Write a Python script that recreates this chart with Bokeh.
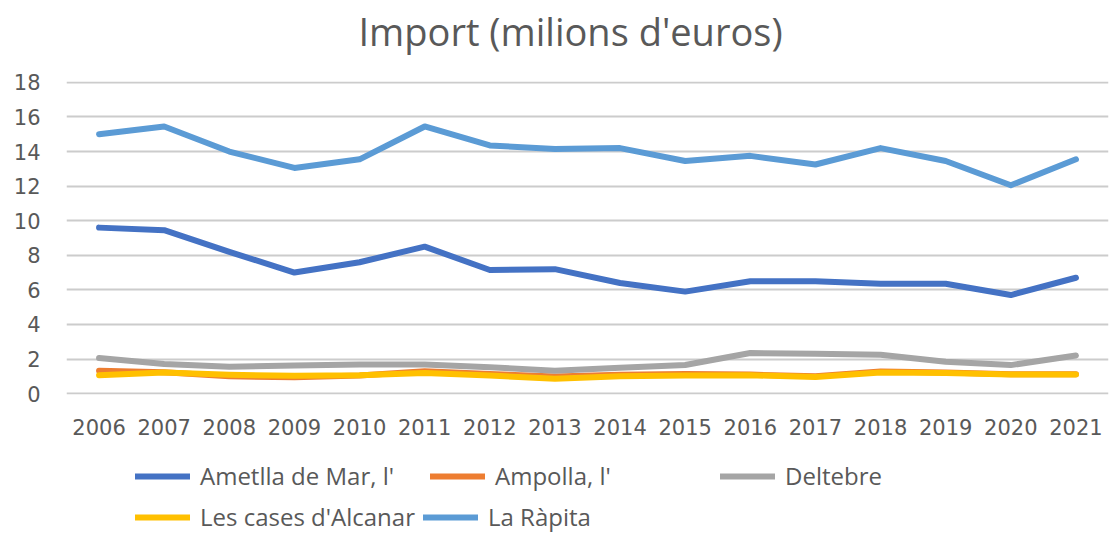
from bokeh.plotting import figure
from bokeh.layouts import column
from bokeh.models import (FactorRange, Range1d, FixedTicker, Legend, LegendItem)
from bokeh.embed import file_html
from bokeh.resources import INLINE

years = ["2006", "2007", "2008", "2009", "2010", "2011", "2012", "2013",
         "2014", "2015", "2016", "2017", "2018", "2019", "2020", "2021"]
ametlla = [9.6, 9.45, 8.2, 7.0, 7.6, 8.5, 7.15, 7.2, 6.4, 5.9, 6.5, 6.5, 6.35, 6.35, 5.7, 6.7]
ampolla = [1.33, 1.24, 1.0, 0.95, 1.05, 1.3, 1.14, 0.99, 1.09, 1.14, 1.1, 1.0, 1.28, 1.22, 1.12, 1.12]
deltebre = [2.06, 1.71, 1.56, 1.62, 1.68, 1.68, 1.52, 1.33, 1.49, 1.66, 2.35, 2.3, 2.25, 1.85, 1.65, 2.2]
cases = [1.07, 1.22, 1.09, 1.03, 1.07, 1.2, 1.05, 0.86, 1.0, 1.05, 1.06, 0.96, 1.22, 1.2, 1.1, 1.1]
rapita = [15.0, 15.45, 14.0, 13.05, 13.55, 15.45, 14.35, 14.15, 14.2, 13.45, 13.75, 13.25, 14.2, 13.45, 12.05, 13.55]

series_names = ["Ametlla de Mar, l'", "Ampolla, l'", "Deltebre", "Les cases d'Alcanar", "La Ràpita"]
series_values = [ametlla, ampolla, deltebre, cases, rapita]
series_colors = ["#4472C4", "#ED7D31", "#A5A5A5", "#FFC000", "#5B9BD5"]
y_ticks = [0, 2, 4, 6, 8, 10, 12, 14, 16, 18]

TEXT = "#595959"

# ---------------- title strip ----------------
t = figure(width=1110, height=60, output_backend="svg", toolbar_location=None,
           x_axis_location=None, y_axis_location=None,
           x_range=FactorRange(factors=years, range_padding=0), y_range=Range1d(0, 1),
           min_border_left=66, min_border_right=2, min_border_top=0, min_border_bottom=0,
           title="Import (milions d'euros)")
t.grid.visible = False
t.outline_line_color = None
t.border_fill_color = "white"
t.title.align = "left"
t.title.offset = 292
t.title.standoff = 4
t.title.text_font = "Open Sans"
t.title.text_font_size = "38px"
t.title.text_font_style = "normal"
t.title.text_color = TEXT

# ---------------- main chart ----------------
p = figure(width=1110, height=386, output_backend="svg", toolbar_location=None,
           x_range=t.x_range,
           y_range=Range1d(-0.05, 18.05),
           min_border_left=66, min_border_right=2, min_border_top=21, min_border_bottom=52)

p.outline_line_color = None
p.background_fill_color = "white"
p.border_fill_color = "white"

p.xgrid.grid_line_color = None
p.ygrid.grid_line_color = "#CCCCCC"
p.ygrid.grid_line_width = 2
p.yaxis.ticker = FixedTicker(ticks=y_ticks)

for ax in (p.xaxis, p.yaxis):
    ax.axis_line_color = None
    ax.major_tick_line_color = None
    ax.minor_tick_line_color = None
    ax.major_tick_out = 0
    ax.major_tick_in = 0
    ax.major_label_text_font = "DejaVu Sans"
    ax.major_label_text_font_size = "21px"
    ax.major_label_text_color = TEXT

p.xaxis.major_label_standoff = 24
p.yaxis.major_label_standoff = 26

for name, vals, col in zip(series_names, series_values, series_colors):
    p.line(years, vals, line_color=col, line_width=6,
           line_join="round", line_cap="round")

# ---------------- legend strip ----------------
# the series are drawn again here only as legend swatches (kept outside the visible y range)
q = figure(width=1110, height=87, output_backend="svg", toolbar_location=None,
           x_range=t.x_range,
           y_range=Range1d(-2, -1),
           min_border_left=66, min_border_right=2, min_border_top=0, min_border_bottom=0)
q.axis.visible = False
q.grid.visible = False
q.outline_line_color = None
q.background_fill_color = "white"
q.border_fill_color = "white"

swatches = []
for vals, col in zip(series_values, series_colors):
    swatches.append(q.line(years, vals, line_color=col, line_width=6, line_cap="round"))

legend_pos = [(69, 41), (364, 41), (654, 41), (69, 0), (357, 0)]
for name, r, pos in zip(series_names, swatches, legend_pos):
    lg = Legend(items=[LegendItem(label=name, renderers=[r])], location=pos,
                orientation="horizontal", padding=0, margin=0, spacing=0,
                border_line_color=None, background_fill_alpha=0,
                glyph_width=55, glyph_height=26, label_height=26, label_standoff=10,
                label_text_font="Open Sans", label_text_font_size="24px",
                label_text_line_height=1.0, label_text_color=TEXT)
    q.add_layout(lg, "center")

layout = column(t, p, q, spacing=0)
open("out.html", "w").write(file_html(layout, INLINE))
